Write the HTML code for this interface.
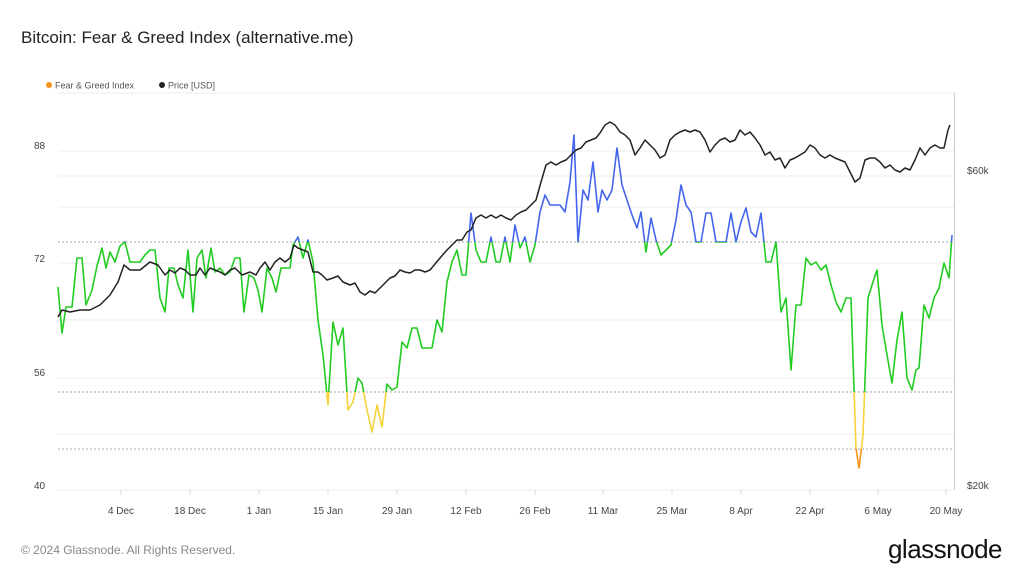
<!DOCTYPE html>
<html><head><meta charset="utf-8"><style>
body{margin:0;background:#fff;width:1024px;height:576px;overflow:hidden;font-family:"Liberation Sans",sans-serif;}
</style></head><body>
<svg width="1024" height="576" xmlns="http://www.w3.org/2000/svg" font-family="Liberation Sans, sans-serif">
<text x="21" y="43" font-size="17" fill="#222">Bitcoin: Fear &amp; Greed Index (alternative.me)</text>
<circle cx="49" cy="85" r="3" fill="#f7931a"/><text x="55" y="88.5" font-size="9" fill="#555">Fear &amp; Greed Index</text>
<circle cx="162" cy="85" r="3" fill="#222"/><text x="168" y="88.5" font-size="9" fill="#555">Price [USD]</text>
<g stroke="#eee" stroke-width="1">
<line x1="58" y1="93" x2="954" y2="93"/><line x1="58" y1="151" x2="954" y2="151"/><line x1="58" y1="176" x2="954" y2="176"/><line x1="58" y1="207" x2="954" y2="207"/><line x1="58" y1="263" x2="954" y2="263"/><line x1="58" y1="320" x2="954" y2="320"/><line x1="58" y1="378" x2="954" y2="378"/><line x1="58" y1="434" x2="954" y2="434"/><line x1="58" y1="490" x2="954" y2="490"/>
</g>
<g stroke="#aaa" stroke-width="1" stroke-dasharray="2,2">
<line x1="58" y1="242" x2="954" y2="242"/><line x1="58" y1="392" x2="954" y2="392"/><line x1="58" y1="449" x2="954" y2="449"/>
</g>
<line x1="954.5" y1="93" x2="954.5" y2="490" stroke="#ccc"/>
<g font-size="10" fill="#444">
<text x="34" y="149">88</text><text x="34" y="262">72</text><text x="34" y="376">56</text><text x="34" y="489">40</text>
<text x="967" y="174">$60k</text><text x="967" y="489">$20k</text>
</g>
<g font-size="10" fill="#444" text-anchor="middle">
<text x="121" y="514">4 Dec</text><text x="190" y="514">18 Dec</text><text x="259" y="514">1 Jan</text><text x="328" y="514">15 Jan</text><text x="397" y="514">29 Jan</text><text x="466" y="514">12 Feb</text><text x="535" y="514">26 Feb</text><text x="603" y="514">11 Mar</text><text x="672" y="514">25 Mar</text><text x="741" y="514">8 Apr</text><text x="810" y="514">22 Apr</text><text x="878" y="514">6 May</text><text x="946" y="514">20 May</text>
</g>
<g stroke="#ddd"><line x1="121" y1="490" x2="121" y2="495"/><line x1="190" y1="490" x2="190" y2="495"/><line x1="259" y1="490" x2="259" y2="495"/><line x1="328" y1="490" x2="328" y2="495"/><line x1="397" y1="490" x2="397" y2="495"/><line x1="466" y1="490" x2="466" y2="495"/><line x1="535" y1="490" x2="535" y2="495"/><line x1="603" y1="490" x2="603" y2="495"/><line x1="672" y1="490" x2="672" y2="495"/><line x1="741" y1="490" x2="741" y2="495"/><line x1="810" y1="490" x2="810" y2="495"/><line x1="878" y1="490" x2="878" y2="495"/><line x1="946" y1="490" x2="946" y2="495"/></g>
<defs>
<clipPath id="cb"><rect x="0" y="0" width="1024" height="242"/></clipPath>
<clipPath id="cg"><rect x="0" y="242" width="1024" height="150"/></clipPath>
<clipPath id="cy"><rect x="0" y="392" width="1024" height="57"/></clipPath>
<clipPath id="co"><rect x="0" y="449" width="1024" height="60"/></clipPath>
<polyline id="fg" fill="none" stroke-width="1.6" stroke-linejoin="round" points="58,287 62,333 66,307 72,307 77,258 82,258 86,305 92,290 97,266 102,248 106,268 110,252 115,262 120,246 125,242 130,262 140,262 145,255 150,250 155,250 160,298 165,312 169,268 174,268 178,285 183,298 188,250 193,312 197,258 202,250 206,278 211,248 215,272 220,268 225,275 230,272 235,258 240,258 244,312 249,275 254,278 258,290 262,312 267,268 272,278 276,292 281,268 285,268 290,268 293,245 298,237 303,258 308,240 313,262 318,320 323,355 328,405 333,322 338,345 343,328 348,410 353,402 358,378 362,383 367,410 372,432 377,405 382,427 387,384 392,390 397,387 402,342 407,348 412,328 417,328 422,348 427,348 432,348 437,320 442,332 447,282 452,262 457,250 462,275 466,275 471,213 476,250 481,262 486,262 491,237 496,262 500,262 505,237 510,262 515,225 520,248 525,237 530,262 535,245 540,212 545,195 550,205 555,205 560,205 565,212 570,182 574,135 578,242 583,190 588,200 593,162 598,212 602,190 607,200 612,190 617,148 622,185 627,200 632,215 637,228 641,212 646,252 651,218 656,240 661,255 666,250 671,245 676,220 681,185 686,205 691,212 696,242 701,242 706,213 711,213 716,242 721,242 726,242 731,213 736,242 741,222 746,208 751,232 756,237 761,213 766,262 771,262 776,242 781,312 786,298 791,370 796,305 801,305 806,258 811,265 816,262 821,270 826,265 831,285 836,302 841,312 846,298 851,298 856,448 859,468 863,435 868,298 872,285 877,270 882,325 887,355 892,383 897,340 902,312 907,378 912,390 916,370 919,368 924,305 929,318 934,298 939,288 944,263 949,278 952,235"/>
</defs>
<use href="#fg" stroke="#4466ee" clip-path="url(#cb)"/>
<use href="#fg" stroke="#22cc22" clip-path="url(#cg)"/>
<use href="#fg" stroke="#f5d23a" clip-path="url(#cy)"/>
<use href="#fg" stroke="#f7931a" clip-path="url(#co)"/>
<polyline fill="none" stroke="#222" stroke-width="1.5" stroke-linejoin="round" points="58,317 62,310 70,312 80,310 90,310 100,305 110,295 118,282 124,265 130,270 140,270 150,262 158,265 165,275 170,270 175,273 180,268 185,270 190,275 196,275 200,268 205,275 210,268 215,270 220,272 225,275 230,270 235,268 242,275 250,272 256,275 260,268 265,262 270,270 275,262 280,258 285,262 290,258 294,245 298,248 303,250 308,252 313,272 318,272 322,275 327,280 333,278 338,276 343,282 350,285 355,283 360,292 365,295 370,291 375,293 380,288 385,283 390,278 395,276 400,270 405,272 410,273 415,270 420,270 425,272 430,270 435,264 440,258 447,250 452,245 457,240 462,240 467,232 471,230 476,218 481,215 486,218 491,215 496,218 501,215 506,218 511,220 516,215 521,212 526,210 531,205 536,200 541,182 546,165 551,162 556,165 561,162 566,160 571,155 576,150 581,148 586,142 591,140 596,138 600,133 605,125 610,122 615,125 620,132 625,135 630,140 635,155 640,148 645,140 650,145 655,150 660,158 665,155 670,140 675,135 680,132 685,130 690,132 695,130 700,132 705,140 710,152 715,145 720,140 725,138 730,142 735,140 740,130 745,135 750,132 755,138 760,145 765,155 770,152 775,160 780,158 785,168 790,160 795,158 800,155 805,152 810,145 815,148 820,155 825,158 830,155 835,158 840,160 845,162 850,172 855,182 860,178 865,160 870,158 875,158 880,162 885,168 890,165 895,170 900,172 905,168 910,170 915,160 920,148 925,155 930,148 935,145 940,148 944,148 948,130 950,125"/>
<text x="21" y="554" font-size="12" fill="#888">© 2024 Glassnode. All Rights Reserved.</text>
<text x="1002" y="558" font-size="26" fill="#111" text-anchor="end" letter-spacing="-0.5">glassnode</text>
</svg>
</body></html>
